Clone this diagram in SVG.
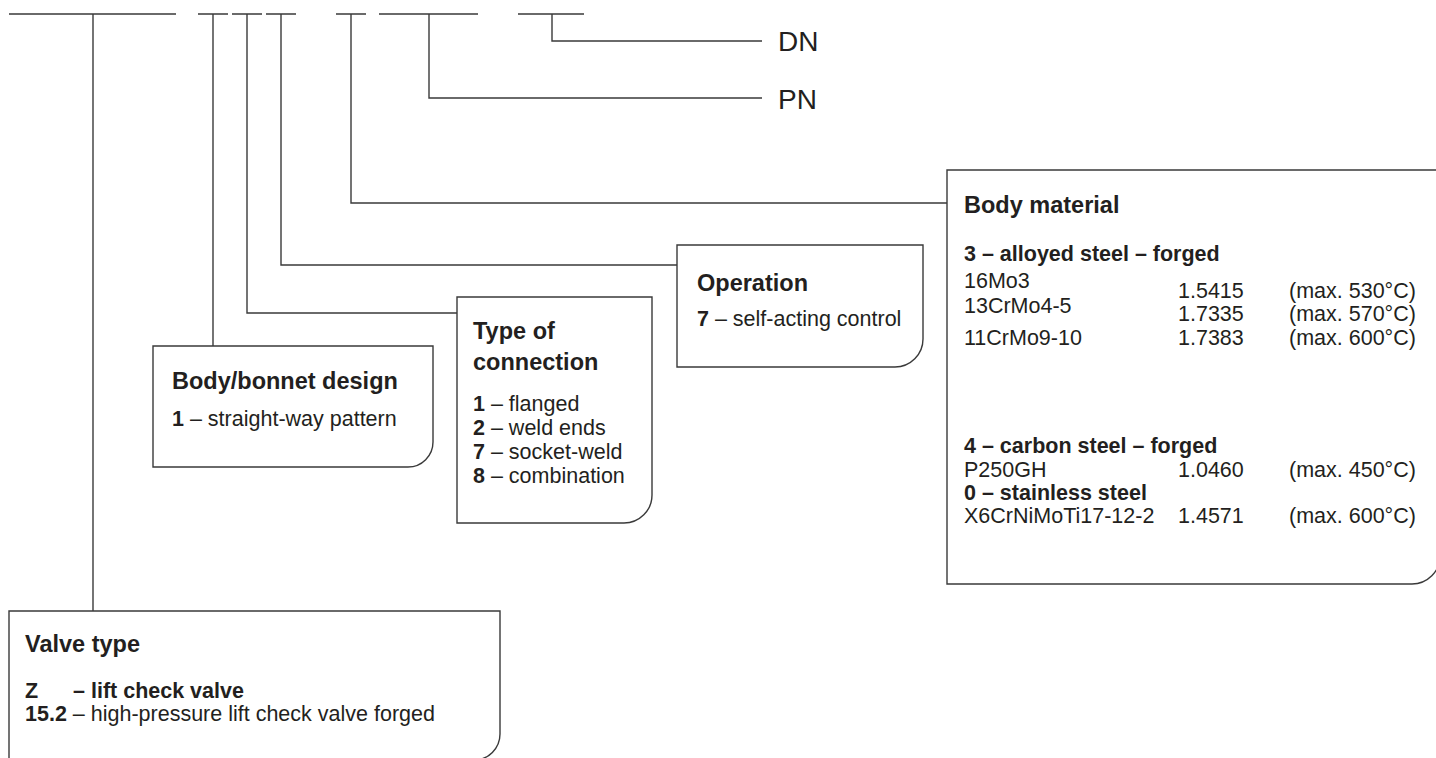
<svg xmlns="http://www.w3.org/2000/svg" width="1436" height="758" viewBox="0 0 1436 758">
<style>
  .ln{fill:none;stroke:#3a3a3a;stroke-width:1.4}
  .box{fill:#fff;stroke:#3a3a3a;stroke-width:1.4}
  text{font-family:"Liberation Sans",Arial,sans-serif;fill:#231f20}
  .h{font-size:23.5px;font-weight:bold}
  .t{font-size:21.5px}
  .b{font-weight:bold}
  .big{font-size:28px}
</style>
<rect width="1436" height="758" fill="#fff"/>
<g id="code-line" class="ln">
  <path d="M9,14H176M198,14H228M232,14H262M266,14H296M336,14H366M379,14H478M518,14H584"/>
</g>
<g id="connectors" class="ln">
  <path d="M93,14V611"/>
  <path d="M213,14V346"/>
  <path d="M247,14V313H457"/>
  <path d="M281,14V265H677"/>
  <path d="M351,14V203H947"/>
  <path d="M429,14V98H762"/>
  <path d="M552,14V41H762"/>
</g>
<g id="dn">
  <text class="big" x="778" y="51">DN</text>
</g>
<g id="pn">
  <text class="big" x="778" y="109">PN</text>
</g>
<g id="body-material">
  <path class="box" d="M947,170H1440V556A28,28 0 0 1 1412,584H947Z"/>
  <text class="h" x="964" y="213">Body material</text>
  <text class="t b" x="964" y="261">3 – alloyed steel – forged</text>
  <text class="t" x="964" y="288">16Mo3</text>
  <text class="t" x="1178" y="298">1.5415</text>
  <text class="t" x="1289" y="298">(max. 530°C)</text>
  <text class="t" x="964" y="313">13CrMo4-5</text>
  <text class="t" x="1178" y="321">1.7335</text>
  <text class="t" x="1289" y="321">(max. 570°C)</text>
  <text class="t" x="964" y="345">11CrMo9-10</text>
  <text class="t" x="1178" y="345">1.7383</text>
  <text class="t" x="1289" y="345">(max. 600°C)</text>
  <text class="t b" x="964" y="453">4 – carbon steel – forged</text>
  <text class="t" x="964" y="477">P250GH</text>
  <text class="t" x="1178" y="477">1.0460</text>
  <text class="t" x="1289" y="477">(max. 450°C)</text>
  <text class="t b" x="964" y="500">0 – stainless steel</text>
  <text class="t" x="964" y="523">X6CrNiMoTi17-12-2</text>
  <text class="t" x="1178" y="523">1.4571</text>
  <text class="t" x="1289" y="523">(max. 600°C)</text>
</g>
<g id="operation">
  <path class="box" d="M677,245H923V339A28,28 0 0 1 895,367H677Z"/>
  <text class="h" x="697" y="291">Operation</text>
  <text class="t" x="697" y="326"><tspan class="b">7</tspan> – self-acting control</text>
</g>
<g id="type-of-connection">
  <path class="box" d="M457,297H652V495A28,28 0 0 1 624,523H457Z"/>
  <text class="h" x="473" y="339">Type of</text>
  <text class="h" x="473" y="370">connection</text>
  <text class="t" x="473" y="411"><tspan class="b">1</tspan> – flanged</text>
  <text class="t" x="473" y="435"><tspan class="b">2</tspan> – weld ends</text>
  <text class="t" x="473" y="459"><tspan class="b">7</tspan> – socket-weld</text>
  <text class="t" x="473" y="483"><tspan class="b">8</tspan> – combination</text>
</g>
<g id="body-bonnet-design">
  <path class="box" d="M153,346H433V442A25,25 0 0 1 408,467H153Z"/>
  <text class="h" x="172" y="389">Body/bonnet design</text>
  <text class="t" x="172" y="426"><tspan class="b">1</tspan> – straight-way pattern</text>
</g>
<g id="valve-type">
  <path class="box" d="M9,611H500V734A26,26 0 0 1 474,760H9Z"/>
  <text class="h" x="25" y="652">Valve type</text>
  <text class="t b" x="25" y="698">Z</text>
  <text class="t b" x="73" y="698">– lift check valve</text>
  <text class="t" x="25" y="721"><tspan class="b">15.2</tspan> – high-pressure lift check valve forged</text>
</g>
</svg>
